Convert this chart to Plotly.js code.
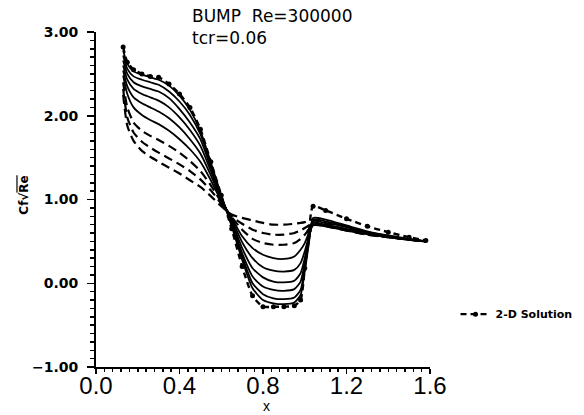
<!DOCTYPE html>
<html><head><meta charset="utf-8">
<script src="https://cdn.plot.ly/plotly-3.0.1.min.js"></script>
<style>html,body{margin:0;padding:0;background:#fff}#chart{width:584px;height:415px}</style>
</head><body><div id="chart"></div>
<script>
// x positions along the bump
const xs = [0.13, 0.15, 0.18, 0.22, 0.26, 0.30, 0.35, 0.40, 0.45, 0.50, 0.55, 0.60, 0.65, 0.70, 0.75, 0.80, 0.85, 0.90, 0.95, 0.98, 1.00, 1.02, 1.04, 1.10, 1.20, 1.30, 1.40, 1.50, 1.58];
// 2-D solution (reference curve with markers)
const cf2D = [2.82, 2.64, 2.55, 2.50, 2.47, 2.46, 2.38, 2.26, 2.10, 1.84, 1.45, 1.05, 0.65, 0.20, -0.15, -0.28, -0.28, -0.28, -0.27, -0.20, 0.18, 0.62, 0.92, 0.87, 0.77, 0.68, 0.61, 0.55, 0.51];
// solid curves
const cfS1 = [2.78, 2.62, 2.53, 2.49, 2.46, 2.43, 2.36, 2.24, 2.07, 1.82, 1.44, 1.05, 0.68, 0.28, -0.06, -0.20, -0.24, -0.25, -0.23, -0.14, 0.14, 0.48, 0.78, 0.76, 0.69, 0.62, 0.57, 0.53, 0.50];
const cfS2 = [2.72, 2.56, 2.47, 2.43, 2.40, 2.37, 2.29, 2.17, 2.01, 1.78, 1.42, 1.04, 0.70, 0.32, 0.00, -0.13, -0.18, -0.19, -0.17, -0.08, 0.18, 0.50, 0.76, 0.74, 0.68, 0.61, 0.565, 0.525, 0.50];
const cfS3 = [2.66, 2.50, 2.40, 2.35, 2.32, 2.29, 2.21, 2.08, 1.92, 1.72, 1.38, 1.03, 0.72, 0.36, 0.08, -0.04, -0.08, -0.09, -0.07, 0.02, 0.24, 0.52, 0.74, 0.72, 0.67, 0.60, 0.56, 0.52, 0.50];
const cfS4 = [2.60, 2.43, 2.32, 2.26, 2.22, 2.18, 2.10, 1.98, 1.83, 1.64, 1.34, 1.02, 0.74, 0.42, 0.18, 0.07, 0.02, 0.01, 0.03, 0.12, 0.30, 0.54, 0.72, 0.70, 0.65, 0.60, 0.555, 0.52, 0.50];
const cfS5 = [2.54, 2.35, 2.22, 2.15, 2.10, 2.05, 1.97, 1.86, 1.72, 1.55, 1.29, 1.00, 0.76, 0.49, 0.30, 0.19, 0.15, 0.14, 0.16, 0.24, 0.38, 0.56, 0.70, 0.69, 0.64, 0.59, 0.55, 0.52, 0.50];
const cfS6 = [2.48, 2.26, 2.10, 2.01, 1.95, 1.90, 1.82, 1.72, 1.60, 1.45, 1.23, 0.98, 0.78, 0.56, 0.42, 0.34, 0.30, 0.29, 0.32, 0.40, 0.48, 0.60, 0.69, 0.68, 0.63, 0.59, 0.55, 0.52, 0.50];
// dashed curves
const cfD1 = [2.40, 2.10, 1.92, 1.82, 1.76, 1.71, 1.64, 1.56, 1.46, 1.34, 1.17, 0.97, 0.79, 0.64, 0.53, 0.48, 0.46, 0.46, 0.48, 0.53, 0.58, 0.64, 0.70, 0.68, 0.63, 0.58, 0.55, 0.52, 0.50];
const cfD2 = [2.32, 1.98, 1.80, 1.69, 1.62, 1.56, 1.49, 1.42, 1.34, 1.24, 1.11, 0.95, 0.80, 0.71, 0.64, 0.60, 0.58, 0.58, 0.60, 0.63, 0.66, 0.69, 0.72, 0.69, 0.63, 0.58, 0.55, 0.52, 0.50];
const cfD3 = [2.25, 1.88, 1.70, 1.58, 1.51, 1.45, 1.38, 1.31, 1.23, 1.15, 1.04, 0.92, 0.82, 0.78, 0.75, 0.72, 0.70, 0.70, 0.71, 0.72, 0.73, 0.75, 0.76, 0.71, 0.64, 0.59, 0.55, 0.52, 0.50];

const xTickVals = [0.0, 0.4, 0.8, 1.2, 1.6];
const yTickVals = [-1, 0, 1, 2, 3];
const legendName = '2-D Solution';
const titleText = 'BUMP  Re=300000<br>tcr=0.06';
const yTitle = 'Cf√<span style="text-decoration:overline">Re</span>';
const xTitle = 'x';

const solid = [cfS1, cfS2, cfS3, cfS4, cfS5, cfS6];
const dashed = [cfD1, cfD2, cfD3];
const traces = [];
dashed.forEach(y => traces.push({x: xs, y: y, mode: 'lines', showlegend: false,
  line: {color: '#000', width: 2.2, dash: '9px,5px', shape: 'spline', smoothing: 0.6}}));
solid.forEach(y => traces.push({x: xs, y: y, mode: 'lines', showlegend: false,
  line: {color: '#000', width: 1.8, shape: 'spline', smoothing: 0.6}}));
traces.push({x: xs, y: cf2D, mode: 'lines+markers', name: legendName,
  line: {color: '#000', width: 2.4, dash: '6px,4px', shape: 'spline', smoothing: 0.6},
  marker: {symbol: 'circle', size: 5, color: '#000'}});

const layout = {
  width: 584, height: 415,
  margin: {l: 96, r: 154, t: 32, b: 48, autoexpand: false},
  paper_bgcolor: '#fff', plot_bgcolor: '#fff',
  font: {family: 'DejaVu Sans', color: '#000'},
  showlegend: true,
  legend: {xref: 'container', yref: 'container', x: 0.78, xanchor: 'left', y: 0.243, yanchor: 'middle',
    bgcolor: 'rgba(0,0,0,0)',
    font: {family: 'DejaVu Sans', size: 11, weight: 'bold', color: '#000'}},
  xaxis: {range: [0, 1.6], tickvals: xTickVals, tickformat: '.1f', showgrid: false, zeroline: false,
    showline: true, linecolor: '#000', linewidth: 2, ticks: 'outside', ticklen: 5, tickwidth: 1.5, tickcolor: '#000',
    ticklabelstandoff: -9,
    tickfont: {family: 'Liberation Sans', size: 24, color: '#000'},
    minor: {dtick: 0.04, ticks: 'outside', ticklen: 3, tickwidth: 1.5, tickcolor: '#000', showgrid: false}},
  yaxis: {range: [-1, 3], tickvals: yTickVals, tickformat: '.2f', showgrid: false, zeroline: false,
    showline: true, linecolor: '#000', linewidth: 2, ticks: 'outside', ticklen: 7, tickwidth: 1.5, tickcolor: '#000',
    ticklabelstandoff: 6,
    tickfont: {family: 'DejaVu Sans', size: 14, weight: 'bold', color: '#000'},
    minor: {dtick: 0.1, ticks: 'outside', ticklen: 4, tickwidth: 1.5, tickcolor: '#000', showgrid: false}},
  annotations: [
    {text: titleText, xref: 'paper', yref: 'paper', x: 0.281, y: 1.085, xanchor: 'left', yanchor: 'top', align: 'left',
     showarrow: false, font: {family: 'DejaVu Sans', size: 17, color: '#000'}},
    {text: yTitle, xref: 'paper', yref: 'paper', x: -0.214, y: 0.513, xanchor: 'center', yanchor: 'middle',
     textangle: -90, showarrow: false, font: {family: 'DejaVu Sans', size: 12, weight: 'bold', color: '#000'}},
    {text: xTitle, xref: 'paper', yref: 'paper', x: 0.51, y: -0.1164, xanchor: 'center', yanchor: 'middle',
     borderpad: 0, showarrow: false, font: {family: 'Liberation Sans', size: 14, color: '#000'}}
  ]
};
Plotly.newPlot('chart', traces, layout, {displayModeBar: false, staticPlot: true});
</script></body></html>
